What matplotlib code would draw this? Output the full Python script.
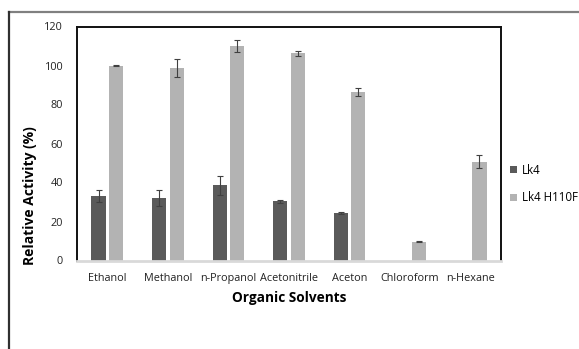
import numpy as np
import matplotlib
matplotlib.use('Agg')
import matplotlib.pyplot as plt
from matplotlib.lines import Line2D

plt.rcParams['font.family'] = ['Open Sans', 'DejaVu Sans']

# Relative activity of the two enzyme variants in organic solvents
solvents = ['Ethanol', 'Methanol', 'n-Propanol', 'Acetonitrile', 'Aceton', 'Chloroform', 'n-Hexane']
lk4 = [33, 32.2, 38.5, 30.4, 24.2, 0, 0]
lk4_err = [3, 4, 4.7, 0.8, 0.5, 0, 0]
h110f = [100, 98.8, 110, 106.2, 86.6, 9.6, 50.6]
h110f_err = [0.3, 4.6, 2.9, 1.2, 2.0, 0.3, 3.4]
yticks = [0, 20, 40, 60, 80, 100, 120]

W, H = 579, 349
fig = plt.figure(figsize=(W / 100, H / 100), dpi=100)

# outer chart frame (only top and left edges fall inside the image)
fig.add_artist(Line2D([8.5 / W, 1], [1 - 11.5 / H, 1 - 11.5 / H], color='#808080', lw=1.6))
fig.add_artist(Line2D([8.5 / W, 8.5 / W], [1 - 11.5 / H, 0], color='#303030', lw=1.6))

ax = fig.add_axes([77 / W, 1 - 260.5 / H, (501 - 77) / W, (260.5 - 26.5) / H])

x = np.arange(len(solvents))
bw = 0.235
off = 0.145
err_kw = dict(ecolor='#404040', elinewidth=0.8, capsize=2.5, capthick=0.8)
mask = np.array(lk4) > 0
ax.bar(x[mask] - off, np.array(lk4)[mask], bw, yerr=np.array(lk4_err)[mask],
       color='#5a5a5a', label='Lk4', error_kw=err_kw)
ax.bar(x + off, h110f, bw, yerr=h110f_err, color='#b3b3b3',
       label='Lk4 H110F', error_kw=err_kw)
ax.set_xlim(-0.5, len(solvents) - 0.5)
ax.set_ylim(0, 120)
ax.set_yticks(yticks)
ax.set_xticks(x)
ax.set_xticklabels(solvents)
ax.tick_params(axis='both', length=0, labelsize=7.8, colors='#222222')
ax.tick_params(axis='x', pad=9)
ax.tick_params(axis='y', pad=10)

for s in ['left', 'top', 'right']:
    ax.spines[s].set_color('#111111')
    ax.spines[s].set_linewidth(1.4)
ax.spines['bottom'].set_color('#d9d9d9')
ax.spines['bottom'].set_linewidth(2)

ax.set_ylabel('Relative Activity (%)', fontsize=10, fontweight='bold')
ax.yaxis.set_label_coords(-0.094, 0.276)
ax.set_xlabel('Organic Solvents', fontsize=9.8, fontweight='bold', labelpad=5)

ax.legend(loc='center left', bbox_to_anchor=(500 / W, 1 - 184 / H),
          bbox_transform=fig.transFigure, frameon=False, fontsize=8.3,
          handlelength=0.6, handleheight=0.6, handletextpad=0.4, labelspacing=1.3)

fig.savefig('out.png', dpi=100)
